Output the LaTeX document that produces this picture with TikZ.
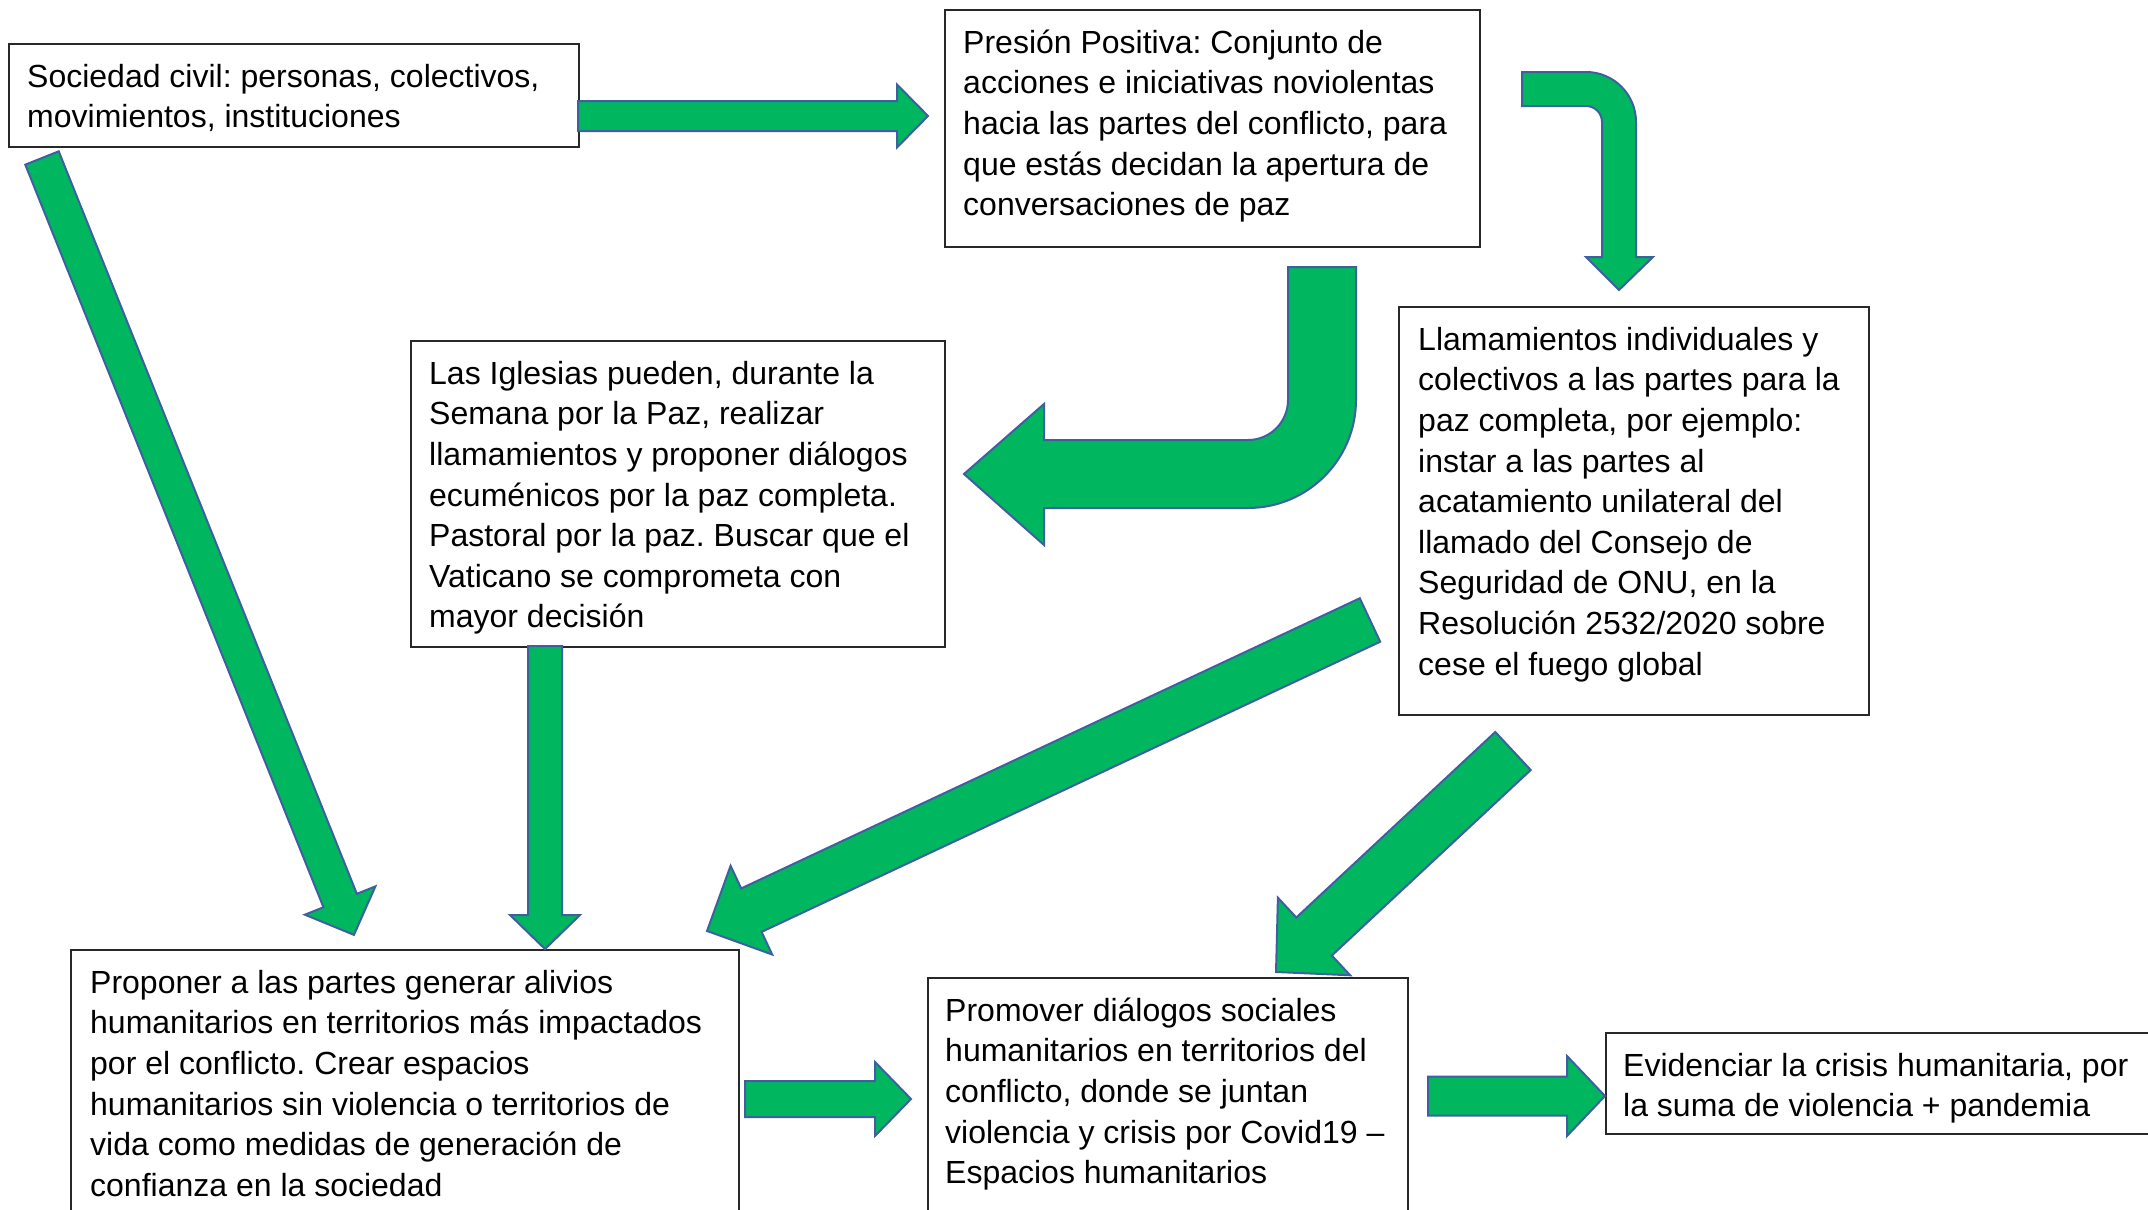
\documentclass[tikz,border=0pt]{standalone}
\usepackage{fontspec}
\setmainfont{Liberation Sans}
\usetikzlibrary{calc}
\frenchspacing
\definecolor{arrgreen}{RGB}{0,183,96}
\definecolor{arredge}{RGB}{62,96,160}
\definecolor{boxedge}{RGB}{40,40,40}
\tikzset{
  box/.style={draw=boxedge, line width=1.6pt, fill=white, rectangle, inner sep=0pt, anchor=north west},
  txt/.style={anchor=north west, inner sep=0pt, align=left, font=\fontsize{32}{40.6}\selectfont},
  blockarrow/.style={fill=arrgreen, draw=arredge, line width=2pt, line join=miter},
}
\newcommand\blockarrow[5]{%
  \path (#1); \pgfgetlastxy{\bax}{\bay}%
  \path (#2); \pgfgetlastxy{\bbx}{\bby}%
  \pgfmathsetmacro\bang{atan2(\bby-\bay,\bbx-\bax)}%
  \pgfmathsetmacro\blen{veclen(\bbx-\bax,\bby-\bay)}%
  \pgfmathsetmacro\bbase{\blen-#5}%
  \begin{scope}[shift={(#1)}, rotate=\bang]
    \draw[blockarrow] (0pt,-#3pt) -- (\bbase pt,-#3pt) -- (\bbase pt,-#4pt) -- (\blen pt,0pt) -- (\bbase pt,#4pt) -- (\bbase pt,#3pt) -- (0pt,#3pt) -- cycle;
  \end{scope}}
\newcommand\fl{\rule{0pt}{30pt}}
\begin{document}
\begin{tikzpicture}[x=1pt,y=-1pt]
\useasboundingbox (0,0) rectangle (2148,1210);
\clip (0,0) rectangle (2148,1210);
\fill[white] (0,0) rectangle (2148,1210);

% boxes
\node[box, minimum width=570pt, minimum height=103pt] (b1) at (8,43) {};
\node[box, minimum width=535pt, minimum height=237pt] (b2) at (944,9) {};
\node[box, minimum width=534pt, minimum height=306pt] (b3) at (410,340) {};
\node[box, minimum width=470pt, minimum height=408pt] (b4) at (1398,306) {};
\node[box, minimum width=668pt, minimum height=330pt] (b5) at (70,949) {};
\node[box, minimum width=480pt, minimum height=300pt] (b6) at (927,977) {};
\node[box, minimum width=570pt, minimum height=101pt] (b7) at (1605,1032) {};

% texts
\node[txt] (t1) at (27,57) {\fl Sociedad civil: personas, colectivos,\\movimientos, instituciones};
\node[txt] (t2) at (963,23) {\fl Presión Positiva: Conjunto de\\acciones e iniciativas noviolentas\\hacia las partes del conflicto, para\\que estás decidan la apertura de\\conversaciones de paz};
\node[txt] (t3) at (429,354) {\fl Las Iglesias pueden, durante la\\Semana por la Paz, realizar\\llamamientos y proponer diálogos\\ecuménicos por la paz completa.\\Pastoral por la paz. Buscar que el\\Vaticano se comprometa con\\mayor decisión};
\node[txt] (t4) at (1418,320) {\fl Llamamientos individuales y\\colectivos a las partes para la\\paz completa, por ejemplo:\\instar a las partes al\\acatamiento unilateral del\\llamado del Consejo de\\Seguridad de ONU, en la\\Resolución 2532/2020 sobre\\cese el fuego global};
\node[txt] (t5) at (90,963) {\fl Proponer a las partes generar alivios\\humanitarios en territorios más impactados\\por el conflicto. Crear espacios\\humanitarios sin violencia o territorios de\\vida como medidas de generación de\\confianza en la sociedad};
\node[txt] (t6) at (945,991) {\fl Promover diálogos sociales\\humanitarios en territorios del\\conflicto, donde se juntan\\violencia y crisis por Covid19 –\\Espacios humanitarios};
\node[txt] (t7) at (1623,1046) {\fl Evidenciar la crisis humanitaria, por\\la suma de violencia + pandemia};

% connector end points
\coordinate (aAs) at (42,158);   \coordinate (aAe) at (354,935);
\coordinate (a1s) at (578,116);  \coordinate (a1e) at (928,116);
\coordinate (a4s) at (545,646);  \coordinate (a4e) at (545,949);
\coordinate (aBs) at (1370,620); \coordinate (aBe) at (707,931);
\coordinate (aCs) at (1513,751); \coordinate (aCe) at (1276,972);
\coordinate (a5s) at (745,1099); \coordinate (a5e) at (911,1099);
\coordinate (a6s) at (1428,1096);\coordinate (a6e) at (1605,1096);

\blockarrow{aAs}{aAe}{18}{38}{37}
\blockarrow{a1s}{a1e}{15}{31.5}{31}
\blockarrow{a4s}{a4e}{17}{35}{34}
\blockarrow{aBs}{aBe}{24}{49}{49}
\blockarrow{aCs}{aCe}{26}{53}{52}
\blockarrow{a5s}{a5e}{18}{37}{36}
\blockarrow{a6s}{a6e}{19.5}{40}{38}

% bent arrow: Presion -> Llamamientos
\coordinate (c2s) at (1522,72);
\draw[blockarrow] (c2s) -- (1586,72) arc[start angle=-90,end angle=0,radius=50]
  -- (1636,257) -- (1653,257) -- (1619,290) -- (1586,257) -- (1602,257)
  -- (1602,122) arc[start angle=0,end angle=-90,radius=16] -- (1522,106) -- cycle;

% bent arrow: Presion -> Iglesias
\coordinate (c3s) at (1288,267);
\draw[blockarrow] (c3s) -- (1356,267) -- (1356,400) arc[start angle=0,end angle=90,radius=108]
  -- (1044,508) -- (1044,545) -- (964,474) -- (1044,404) -- (1044,440) -- (1248,440)
  arc[start angle=90,end angle=0,radius=40] -- cycle;
\end{tikzpicture}
\end{document}
